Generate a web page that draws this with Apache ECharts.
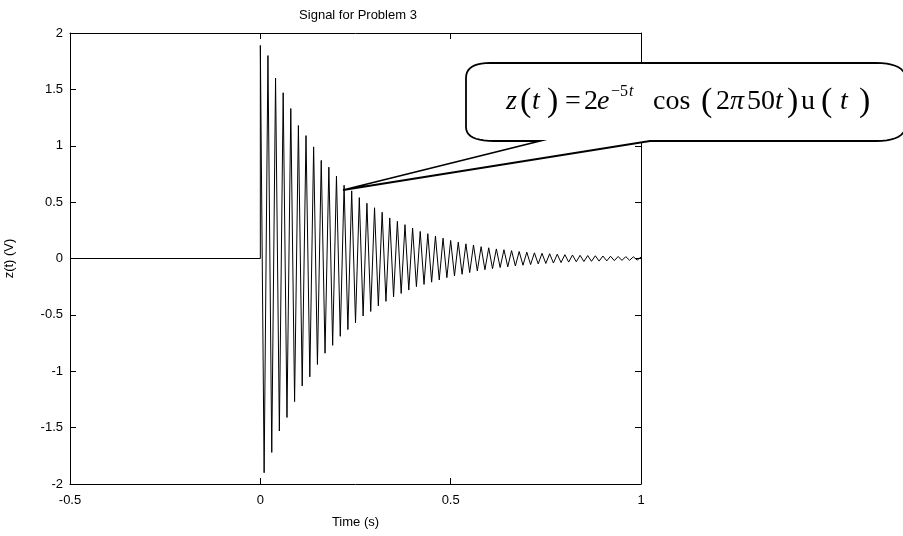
<!DOCTYPE html>
<html>
<head>
<meta charset="utf-8">
<script src="https://cdn.jsdelivr.net/npm/echarts@6/dist/echarts.min.js"></script>
<style>
html,body{margin:0;padding:0;background:#fff;}
#chart{width:903px;height:536px;}
</style>
</head>
<body>
<div id="chart"></div>
<script>
// ---- data ----
const times = [-0.5, 0, 0,
  0.01, 0.02, 0.03, 0.04, 0.05, 0.06, 0.07, 0.08, 0.09, 0.10,
  0.11, 0.12, 0.13, 0.14, 0.15, 0.16, 0.17, 0.18, 0.19, 0.20,
  0.21, 0.22, 0.23, 0.24, 0.25, 0.26, 0.27, 0.28, 0.29, 0.30,
  0.31, 0.32, 0.33, 0.34, 0.35, 0.36, 0.37, 0.38, 0.39, 0.40,
  0.41, 0.42, 0.43, 0.44, 0.45, 0.46, 0.47, 0.48, 0.49, 0.50,
  0.51, 0.52, 0.53, 0.54, 0.55, 0.56, 0.57, 0.58, 0.59, 0.60,
  0.61, 0.62, 0.63, 0.64, 0.65, 0.66, 0.67, 0.68, 0.69, 0.70,
  0.71, 0.72, 0.73, 0.74, 0.75, 0.76, 0.77, 0.78, 0.79, 0.80,
  0.81, 0.82, 0.83, 0.84, 0.85, 0.86, 0.87, 0.88, 0.89, 0.90,
  0.91, 0.92, 0.93, 0.94, 0.95, 0.96, 0.97, 0.98, 0.99, 1.00];
const zValues = [0, 0, 1.89,
  -1.90, 1.80, -1.72, 1.60, -1.53, 1.47, -1.41, 1.33, -1.27, 1.18,
  -1.13, 1.09, -1.05, 0.99, -0.94, 0.87, -0.84, 0.81, -0.77, 0.73,
  -0.69, 0.65, -0.63, 0.60, -0.57, 0.54, -0.51, 0.49, -0.47, 0.45,
  -0.42, 0.41, -0.38, 0.36, -0.34, 0.33, -0.31, 0.30, -0.28, 0.27,
  -0.25, 0.24, -0.23, 0.22, -0.21, 0.20, -0.19, 0.18, -0.17, 0.16,
  -0.155, 0.145, -0.14, 0.13, -0.125, 0.12, -0.11, 0.105, -0.10, 0.095,
  -0.09, 0.085, -0.08, 0.078, -0.074, 0.07, -0.066, 0.062, -0.06, 0.056,
  -0.054, 0.05, -0.048, 0.046, -0.044, 0.042, -0.04, 0.038, -0.036, 0.034,
  -0.032, 0.031, -0.029, 0.028, -0.027, 0.026, -0.025, 0.024, -0.023, 0.022,
  -0.021, 0.02, -0.019, 0.018, -0.017, 0.017, -0.016, 0.015, -0.014, 0.013];
const titleText = 'Signal for Problem 3';
const xName = 'Time (s)';
const yName = 'z(t) (V)';

// ---- chart ----
const seriesData = times.map((t, i) => [t, zValues[i]]);
const FONT = '"Liberation Sans", Arial, sans-serif';
const SERIF = '"Liberation Serif", "Times New Roman", serif';

function axisBase() {
  return {
    type: 'value',
    axisLine: { show: true, onZero: false, lineStyle: { color: '#000', width: 1 } },
    axisTick: { show: true, inside: true, length: 6, lineStyle: { color: '#000', width: 1 } },
    splitLine: { show: false },
    axisLabel: { color: '#000', fontFamily: FONT, fontSize: 13 }
  };
}

const chart = echarts.init(document.getElementById('chart'), null, { renderer: 'canvas' });

// formula pieces for the callout: [text, x, kind]
const pieces = [
  ['z', 506, 'it'], ['(', 520, 'par'], ['t', 532, 'it'], [')', 547, 'par'],
  ['=', 565, 'rm'], ['2', 584, 'rm'], ['e', 597, 'it'],
  ['\u22125', 611, 'sup'], ['t', 629, 'supit'],
  ['cos', 653, 'rm'],
  ['(', 701, 'par'], ['2', 716, 'rm'], ['\u03c0', 730, 'it'],
  ['50', 747, 'rm'], ['t', 775, 'it'], [')', 787, 'par'],
  ['u', 801, 'rm'], ['(', 821, 'par'], ['t', 840, 'it'], [')', 859, 'par']
];
const eqEls = pieces.map(p => {
  const kind = p[2];
  let size = 28, style = 'normal', top = 88;
  if (kind === 'it') style = 'italic';
  if (kind === 'par') { size = 34; top = 85.5; }
  if (kind === 'sup' || kind === 'supit') { size = 16; top = 83.5; if (kind === 'supit') style = 'italic'; }
  return {
    type: 'text', x: p[1], y: top, z: 110,
    style: { text: p[0], font: style + ' ' + size + 'px ' + SERIF, fill: '#000' }
  };
});

// callout outline (quadratic corners sampled into a polygon)
function quad(p0, c, p1, n) {
  const out = [];
  for (let i = 1; i <= n; i++) {
    const s = i / n, a = (1 - s) * (1 - s), b = 2 * (1 - s) * s, d = s * s;
    out.push([a * p0[0] + b * c[0] + d * p1[0], a * p0[1] + b * c[1] + d * p1[1]]);
  }
  return out;
}
let bubble = [[490, 63], [876, 63]];
bubble = bubble.concat(quad([876, 63], [906, 63], [906, 80], 10));
bubble.push([906, 124]);
bubble = bubble.concat(quad([906, 124], [906, 141], [876, 141], 10));
bubble.push([650, 141], [343, 190], [540, 141], [494, 141]);
bubble = bubble.concat(quad([494, 141], [466, 141], [466, 127], 10));
bubble.push([466, 78]);
bubble = bubble.concat(quad([466, 78], [466, 63], [490, 63], 10));

chart.setOption({
  animation: false,
  backgroundColor: '#fff',
  title: {
    text: titleText, left: 353, top: 4, textAlign: 'center',
    textStyle: { fontFamily: FONT, fontSize: 13, fontWeight: 'normal', color: '#000' }
  },
  grid: { left: 70, right: 262, top: 33, bottom: 52, containLabel: false, outerBoundsMode: 'none' },
  xAxis: [
    Object.assign(axisBase(), {
      position: 'bottom', min: -0.5, max: 1, interval: 0.5,
      name: xName, nameLocation: 'middle', nameGap: 32,
      nameTextStyle: { color: '#000', fontFamily: FONT, fontSize: 13 },
      axisLabel: { color: '#000', fontFamily: FONT, fontSize: 13, margin: 10 }
    }),
    Object.assign(axisBase(), {
      position: 'top', min: -0.5, max: 1, interval: 0.5,
      axisLabel: { show: false }
    })
  ],
  yAxis: [
    Object.assign(axisBase(), {
      position: 'left', min: -2, max: 2, interval: 0.5,
      name: yName, nameLocation: 'middle', nameGap: 54,
      nameTextStyle: { color: '#000', fontFamily: FONT, fontSize: 13 },
      axisLabel: { color: '#000', fontFamily: FONT, fontSize: 13, margin: 7 }
    }),
    Object.assign(axisBase(), {
      position: 'right', min: -2, max: 2, interval: 0.5,
      axisLabel: { show: false }
    })
  ],
  series: [{
    type: 'line', xAxisIndex: 0, yAxisIndex: 0,
    data: seriesData, showSymbol: false, symbol: 'none',
    lineStyle: { color: '#000', width: 1 }
  }],
  graphic: [
    { type: 'polygon', z: 100, shape: { points: bubble },
      style: { fill: '#fff', stroke: '#000', lineWidth: 1.8 } }
  ].concat(eqEls)
});
</script>
</body>
</html>
